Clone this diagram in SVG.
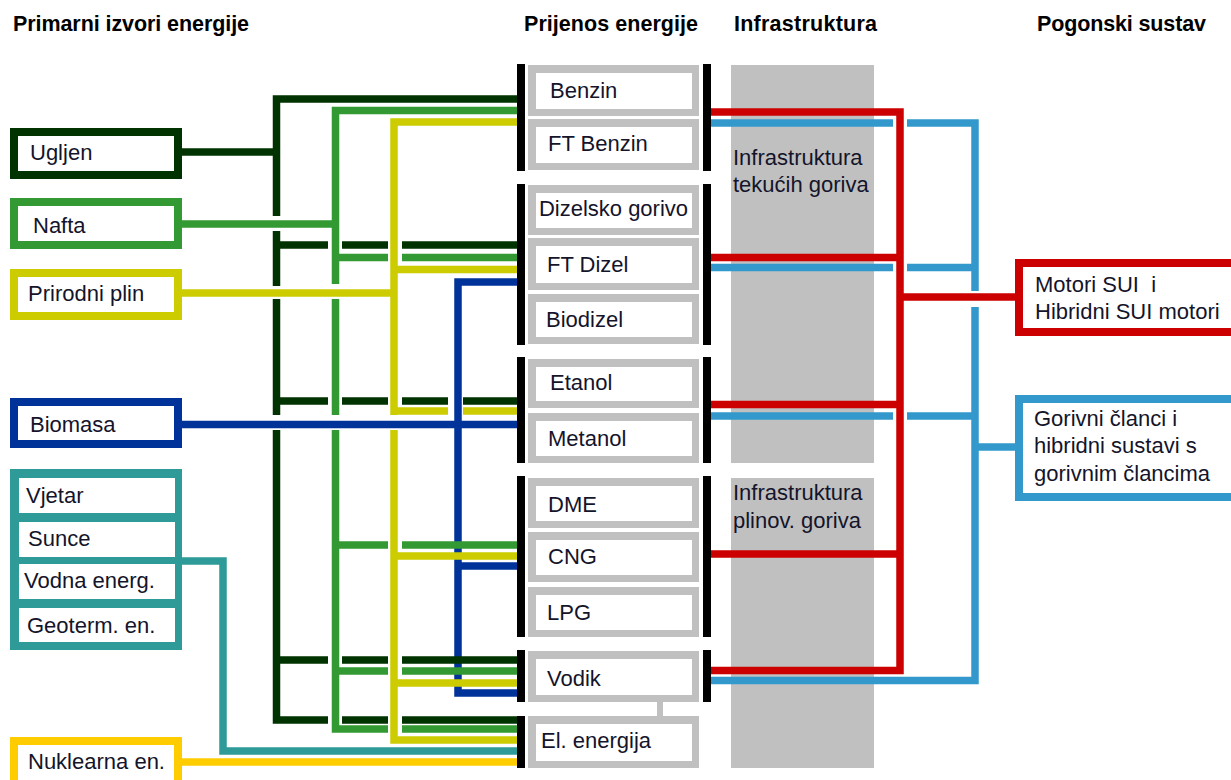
<svg xmlns="http://www.w3.org/2000/svg" width="1231" height="780" viewBox="0 0 1231 780">
<style>
text{font-family:"Liberation Sans",Arial,sans-serif;font-size:22px;fill:#14142a}
.t{font-weight:bold;font-size:21.5px;fill:#000}
.fb{fill:#c0c0c0}
.fi{fill:#fff}
.bar{fill:#000}
.src{fill:#fff;stroke-width:8}
path{fill:none;stroke-width:7.5;stroke-linejoin:miter;stroke-linecap:butt}
.dg{stroke:#003300}.gr{stroke:#339933}.ye{stroke:#cccc00}.bl{stroke:#003399}
.te{stroke:#2e9b98}.go{stroke:#ffcc00}.rd{stroke:#cc0000}.lb{stroke:#3399cc}
</style>
<rect width="1231" height="780" fill="#fff"/>
<g id="titles">
<text class="t" x="13" y="31" textLength="236">Primarni izvori energije</text>
<text class="t" x="524" y="31" textLength="174">Prijenos energije</text>
<text class="t" x="734" y="31" textLength="143">Infrastruktura</text>
<text class="t" x="1037" y="31" textLength="169">Pogonski sustav</text>
</g>
<g id="infrastruktura">
<rect x="731" y="65" width="143" height="398" class="fb"/>
<rect x="731" y="478" width="143" height="290" class="fb"/>
<text x="733" y="165">Infrastruktura</text>
<text x="733" y="192">tekućih goriva</text>
<text x="733" y="500">Infrastruktura</text>
<text x="733" y="528">plinov. goriva</text>
</g>
<g id="connectors">
<path class="dg" d="M517,99 H276.5 V216 M276.5,231 V286 M276.5,299 V415 M276.5,430 V720 H328 M342,720 H388 M402,720 H517 M182,152 H276.5 M276.5,245 H328 M342,245 H388 M402,245 H517 M276.5,401 H328 M342,401 H388 M402,401 H448 M463,401 H517"/>
<path class="gr" d="M517,110.5 H335.5 V284 M335.5,299 V415 M335.5,430 V729 H388 M402,729 H517 M182,224 H335.5 M335.5,257.5 H388 M402,257.5 H517"/>
<path class="ye" d="M517,122 H394 V415 M394,430 V740 H517 M182,293 H394 M394,269.5 H517 M394,411 H448 M463,411 H517"/>
<path class="bl" d="M517,282 H458 V693 H517 M458,566 H517 M182,424.5 H517"/>
<path class="dg" d="M276.5,660 H328 M342,660 H388 M402,660 H517"/>
<path class="gr" d="M335.5,545 H388 M402,545 H517 M335.5,671 H388 M402,671 H517"/>
<path class="ye" d="M394,556 H517 M394,683 H517"/>
<path class="te" d="M182,561 H223 V751 H517"/>
<path class="go" d="M182,762 H517"/>
<path class="lb" d="M711,123 H893 M907,123 H975 V291 M975,307 V680.5 H711 M711,267.5 H893 M907,267.5 H975 M711,416 H893 M907,416 H975 M975,447 H1015"/>
<path class="rd" d="M711,112 H900 V670.5 H711 M711,257.5 H900 M711,404.5 H900 M711,554 H900 M900,297 H1015"/>
<rect x="657" y="702" width="6" height="14" class="fb"/>
</g>
<g id="ugljen"><rect x="14" y="132" width="164" height="43" class="src" stroke="#003300"/><text x="30" y="160">Ugljen</text></g>
<g id="nafta"><rect x="14" y="202" width="164" height="43" class="src" stroke="#339933"/><text x="33" y="233">Nafta</text></g>
<g id="prirodni-plin"><rect x="14" y="273" width="164" height="43" class="src" stroke="#cccc00"/><text x="28" y="301">Prirodni plin</text></g>
<g id="biomasa"><rect x="14" y="402" width="164" height="42" class="src" stroke="#003399"/><text x="30" y="432">Biomasa</text></g>
<g id="obnovljivi"><rect x="10" y="469" width="172" height="181" fill="#2e9b98"/></g>
<g id="vjetar"><rect x="19" y="478" width="156" height="35" class="fi"/><text x="26" y="503">Vjetar</text></g>
<g id="sunce"><rect x="19" y="522" width="156" height="35" class="fi"/><text x="28" y="546">Sunce</text></g>
<g id="vodna"><rect x="19" y="564" width="156" height="35" class="fi"/><text x="24" y="588">Vodna energ.</text></g>
<g id="geoterm"><rect x="19" y="608" width="156" height="34" class="fi"/><text x="27" y="633">Geoterm. en.</text></g>
<g id="nuklearna"><rect x="14" y="741" width="164" height="50" class="src" stroke="#ffcc00"/><text x="28" y="769">Nuklearna en.</text></g>
<g id="bars">
<rect x="517" y="64" width="8" height="107" class="bar"/><rect x="703" y="64" width="8" height="107" class="bar"/>
<rect x="517" y="184" width="8" height="161" class="bar"/><rect x="703" y="184" width="8" height="161" class="bar"/>
<rect x="517" y="357" width="8" height="106" class="bar"/><rect x="703" y="357" width="8" height="106" class="bar"/>
<rect x="517" y="476" width="8" height="161" class="bar"/><rect x="703" y="476" width="8" height="161" class="bar"/>
<rect x="517" y="650" width="8" height="52" class="bar"/><rect x="703" y="650" width="8" height="52" class="bar"/>
<rect x="517" y="716" width="8" height="52" class="bar"/>
</g>
<g id="benzin"><rect x="528" y="65" width="171" height="51" class="fb"/><rect x="536" y="73" width="156" height="36" class="fi"/><text x="550" y="98">Benzin</text></g>
<g id="ft-benzin"><rect x="528" y="119" width="171" height="51" class="fb"/><rect x="536" y="127" width="156" height="36" class="fi"/><text x="548" y="151">FT Benzin</text></g>
<g id="dizelsko"><rect x="528" y="185" width="171" height="50" class="fb"/><rect x="536" y="193" width="156" height="35" class="fi"/><text x="539" y="216" textLength="149">Dizelsko gorivo</text></g>
<g id="ft-dizel"><rect x="528" y="238" width="171" height="52" class="fb"/><rect x="536" y="246" width="156" height="37" class="fi"/><text x="547" y="272">FT Dizel</text></g>
<g id="biodizel"><rect x="528" y="294" width="171" height="50" class="fb"/><rect x="536" y="302" width="156" height="35" class="fi"/><text x="546" y="327">Biodizel</text></g>
<g id="etanol"><rect x="528" y="359" width="171" height="49" class="fb"/><rect x="536" y="367" width="156" height="34" class="fi"/><text x="550" y="390">Etanol</text></g>
<g id="metanol"><rect x="528" y="413" width="171" height="50" class="fb"/><rect x="536" y="421" width="156" height="35" class="fi"/><text x="548" y="446">Metanol</text></g>
<g id="dme"><rect x="528" y="478" width="171" height="50" class="fb"/><rect x="536" y="486" width="156" height="35" class="fi"/><text x="548" y="512">DME</text></g>
<g id="cng"><rect x="528" y="532" width="171" height="50" class="fb"/><rect x="536" y="540" width="156" height="35" class="fi"/><text x="548" y="564">CNG</text></g>
<g id="lpg"><rect x="528" y="587" width="171" height="50" class="fb"/><rect x="536" y="595" width="156" height="35" class="fi"/><text x="547" y="620">LPG</text></g>
<g id="vodik"><rect x="528" y="651" width="171" height="51" class="fb"/><rect x="536" y="659" width="156" height="36" class="fi"/><text x="547" y="686">Vodik</text></g>
<g id="el-energija"><rect x="528" y="716" width="171" height="52" class="fb"/><rect x="536" y="724" width="156" height="37" class="fi"/><text x="541" y="748">El. energija</text></g>
<g id="motori-sui"><rect x="1019" y="263" width="300" height="69" class="src" stroke="#cc0000"/><text x="1035" y="292" xml:space="preserve">Motori SUI  i</text><text x="1035" y="319">Hibridni SUI motori</text></g>
<g id="gorivni-clanci"><rect x="1019" y="399" width="300" height="98" class="src" stroke="#3399cc"/><text x="1034" y="426">Gorivni članci i</text><text x="1034" y="453">hibridni sustavi s</text><text x="1034" y="481">gorivnim člancima</text></g>
</svg>
